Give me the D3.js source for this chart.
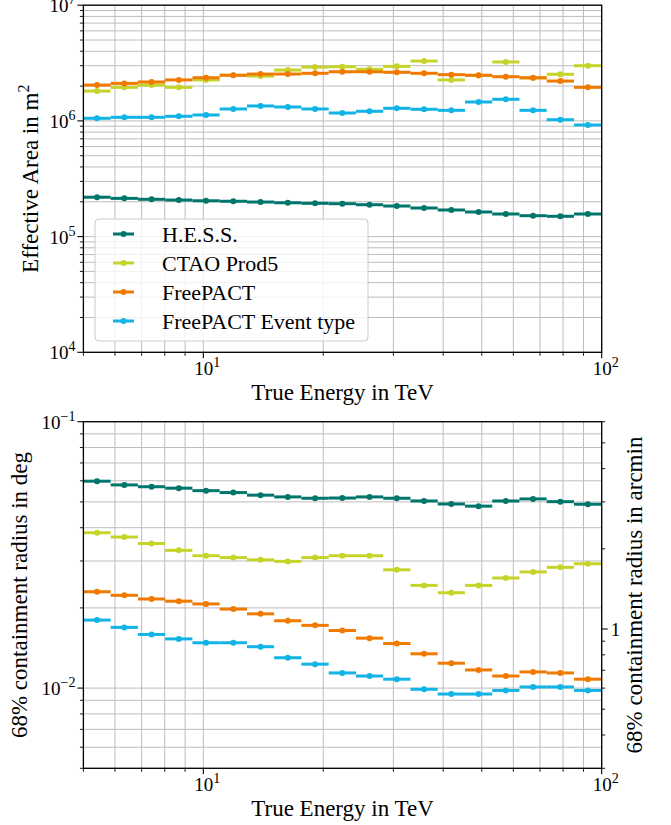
<!DOCTYPE html>
<html>
<head>
<meta charset="utf-8">
<script src="https://cdn.jsdelivr.net/npm/d3@7"></script>
<style>
  html, body { margin: 0; padding: 0; background: #fff; }
  svg { display: block; }
  svg text { font-family: "Liberation Serif", serif !important; }
</style>
</head>
<body>
<svg id="chart" width="671" height="825" font-family="Liberation Serif"></svg>
<script>
// ---------------- DATA ----------------
const binEdges = [5.000, 5.853, 6.852, 8.020, 9.389, 10.99, 12.87, 15.06, 17.63, 20.64,
                  24.16, 28.28, 33.11, 38.75, 45.37, 53.11, 62.17, 72.77, 85.19, 100.0];

const seriesNames = ["H.E.S.S.", "CTAO Prod5", "FreePACT", "FreePACT Event type"];
const seriesColors = ["#00756b", "#c6d42a", "#f07a00", "#12b4e6"];

const hessArea  = [2.19e5, 2.14e5, 2.10e5, 2.07e5, 2.04e5, 2.02e5, 1.99e5, 1.96e5, 1.94e5, 1.925e5,
                   1.886e5, 1.838e5, 1.767e5, 1.698e5, 1.632e5, 1.568e5, 1.516e5, 1.498e5, 1.568e5];
const ctaoArea  = [1.81e6, 1.95e6, 2.04e6, 1.95e6, 2.26e6, 2.48e6, 2.44e6, 2.75e6, 2.92e6, 2.94e6,
                   2.79e6, 2.96e6, 3.29e6, 2.26e6, 2.47e6, 3.23e6, 2.35e6, 2.53e6, 3.00e6];
const freeArea  = [2.04e6, 2.11e6, 2.17e6, 2.26e6, 2.36e6, 2.48e6, 2.54e6, 2.54e6, 2.58e6, 2.66e6,
                   2.66e6, 2.63e6, 2.58e6, 2.51e6, 2.48e6, 2.41e6, 2.36e6, 2.21e6, 1.95e6];
const eventArea = [1.053e6, 1.074e6, 1.074e6, 1.096e6, 1.125e6, 1.268e6, 1.346e6, 1.319e6, 1.268e6, 1.170e6,
                   1.211e6, 1.285e6, 1.260e6, 1.234e6, 1.457e6, 1.537e6, 1.234e6, 1.024e6, 0.922e6];

const hessPsf  = [0.0598, 0.0579, 0.0570, 0.0563, 0.0551, 0.0542, 0.0530, 0.0522, 0.0516, 0.0517,
                  0.0522, 0.0516, 0.0504, 0.0491, 0.0482, 0.0504, 0.0513, 0.0501, 0.0490];
const ctaoPsf  = [0.0383, 0.0369, 0.0349, 0.0329, 0.0314, 0.0309, 0.0303, 0.0299, 0.0309, 0.0314,
                  0.0314, 0.0278, 0.0243, 0.0228, 0.0243, 0.0259, 0.0273, 0.0284, 0.0293];
const freePsf  = [0.0230, 0.0223, 0.0216, 0.0212, 0.0207, 0.0198, 0.0190, 0.0179, 0.0172, 0.01645,
                  0.0154, 0.0147, 0.01345, 0.0124, 0.0117, 0.0111, 0.0115, 0.0114, 0.0108];
const eventPsf = [0.0180, 0.0169, 0.0159, 0.0153, 0.0148, 0.0148, 0.0143, 0.0130, 0.0123, 0.0114,
                  0.0111, 0.0108, 0.0099, 0.0095, 0.0095, 0.0098, 0.0101, 0.0101, 0.0098];

const xMajorTicks = [10, 100];
const xTickExp = ["1", "2"];
const areaMajorTicks = [1e4, 1e5, 1e6, 1e7];
const areaTickExp = ["4", "5", "6", "7"];
const psfMajorTicks = [0.01, 0.1];
const psfTickExp = ["\u22122", "\u22121"];
const arcminTicks = [1];
const arcminTickLabels = ["1"];

// ---------------- LAYOUT ----------------
const FONT = "Liberation Serif";
const svg = d3.select("#chart");

const xL = 83.4, xR = 601.7;
const top1 = 5.2, bot1 = 352.3;
const top2 = 421.7, bot2 = 768.3;

const x = d3.scaleLog().domain([5, 100]).range([xL, xR]);
const yA = d3.scaleLog().domain([1e4, 1e7]).range([bot1, top1]);
const yP = d3.scaleLog().domain([0.005, 0.1]).range([bot2, top2]);
const yArc = d3.scaleLog().domain([0.3, 6]).range([bot2, top2]);

function minorTicks(lo, hi) {
  const out = [];
  for (let e = Math.floor(Math.log10(lo)); e <= Math.ceil(Math.log10(hi)); e++) {
    for (let m = 1; m <= 9; m++) {
      const v = m * Math.pow(10, e);
      if (v >= lo * 0.9999 && v <= hi * 1.0001) out.push(v);
    }
  }
  return out;
}

const gridColor = "#bdbdbd";

function txt(sel) {
  return sel.append("text").attr("font-family", FONT).style("font-family", "'Liberation Serif', serif").attr("fill", "#000");
}

function drawPanel(yScale, yDomain, yMajor, yExp, top, bot, data) {
  const g = svg.append("g");
  const xs = minorTicks(5, 100);
  const ys = minorTicks(yDomain[0], yDomain[1]);
  g.selectAll(".gx").data(xs).enter().append("line")
    .attr("x1", d => x(d)).attr("x2", d => x(d))
    .attr("y1", top).attr("y2", bot)
    .attr("stroke", gridColor).attr("stroke-width", 1);
  g.selectAll(".gy").data(ys).enter().append("line")
    .attr("y1", d => yScale(d)).attr("y2", d => yScale(d))
    .attr("x1", xL).attr("x2", xR)
    .attr("stroke", gridColor).attr("stroke-width", 1);

  data.forEach((vals, si) => {
    const gs = g.append("g");
    vals.forEach((v, i) => {
      const lo = binEdges[i], hi = binEdges[i + 1];
      const c = Math.sqrt(lo * hi);
      gs.append("line")
        .attr("x1", x(lo)).attr("x2", x(hi))
        .attr("y1", yScale(v)).attr("y2", yScale(v))
        .attr("stroke", seriesColors[si]).attr("stroke-width", 3);
      gs.append("circle")
        .attr("cx", x(c)).attr("cy", yScale(v)).attr("r", 3)
        .attr("fill", seriesColors[si]);
    });
  });

  const tg = g.append("g");
  xs.forEach(v => {
    const maj = xMajorTicks.includes(v);
    tg.append("line").attr("x1", x(v)).attr("x2", x(v))
      .attr("y1", bot).attr("y2", bot + (maj ? 6 : 3.5))
      .attr("stroke", "#000").attr("stroke-width", maj ? 1.1 : 0.9);
  });
  ys.forEach(v => {
    const maj = yMajor.some(m => Math.abs(m - v) / m < 1e-6);
    tg.append("line").attr("y1", yScale(v)).attr("y2", yScale(v))
      .attr("x1", xL).attr("x2", xL - (maj ? 6 : 3.5))
      .attr("stroke", "#000").attr("stroke-width", maj ? 1.1 : 0.9);
  });
  xMajorTicks.forEach((v, i) => {
    const t = txt(tg).attr("x", x(v) + 4).attr("y", bot + 23)
      .attr("text-anchor", "middle").attr("font-size", 19);
    t.append("tspan").text("10");
    t.append("tspan").attr("dy", -8).attr("font-size", 14).text(xTickExp[i]);
  });
  yMajor.forEach((v, i) => {
    const t = txt(tg).attr("x", xL - 8).attr("y", yScale(v) + 7)
      .attr("text-anchor", "end").attr("font-size", 19);
    t.append("tspan").text("10");
    t.append("tspan").attr("dy", -8).attr("font-size", 14).text(yExp[i]);
  });
  g.append("rect").attr("x", xL).attr("y", top).attr("width", xR - xL).attr("height", bot - top)
    .attr("fill", "none").attr("stroke", "#000").attr("stroke-width", 1.3);
  txt(g).attr("x", (xL + xR) / 2).attr("y", bot + 48)
    .attr("text-anchor", "middle").attr("font-size", 23).text("True Energy in TeV");
  return g;
}

drawPanel(yA, [1e4, 1e7], areaMajorTicks, areaTickExp, top1, bot1,
          [hessArea, ctaoArea, freeArea, eventArea]);
drawPanel(yP, [0.005, 0.1], psfMajorTicks, psfTickExp, top2, bot2,
          [hessPsf, ctaoPsf, freePsf, eventPsf]);

const yl1 = txt(svg)
  .attr("transform", `translate(38,${(top1 + bot1) / 2}) rotate(-90)`)
  .attr("text-anchor", "middle").attr("font-size", 23);
yl1.append("tspan").text("Effective Area in m");
yl1.append("tspan").attr("dy", -9).attr("font-size", 16).text("2");

txt(svg)
  .attr("transform", `translate(27,${(top2 + bot2) / 2}) rotate(-90)`)
  .attr("text-anchor", "middle").attr("font-size", 23).text("68% containment radius in deg");

const arcTicks = minorTicks(0.3, 6);
arcTicks.forEach(v => {
  const maj = arcminTicks.includes(v);
  svg.append("line").attr("y1", yArc(v)).attr("y2", yArc(v))
    .attr("x1", xR).attr("x2", xR + (maj ? 6 : 3.5))
    .attr("stroke", "#000").attr("stroke-width", maj ? 1.1 : 0.9);
});
arcminTicks.forEach((v, i) => {
  txt(svg).attr("x", xR + 9).attr("y", yArc(v) + 7)
    .attr("font-size", 19).text(arcminTickLabels[i]);
});
txt(svg)
  .attr("transform", `translate(642,${(top2 + bot2) / 2}) rotate(-90)`)
  .attr("text-anchor", "middle").attr("font-size", 23).text("68% containment radius in arcmin");

const lg = svg.append("g");
lg.append("rect").attr("x", 95).attr("y", 219).attr("width", 273).attr("height", 122)
  .attr("rx", 4).attr("fill", "#fff").attr("fill-opacity", 0.8)
  .attr("stroke", "#cccccc").attr("stroke-width", 1);
seriesNames.forEach((n, i) => {
  const yy = 234 + i * 29;
  lg.append("line").attr("x1", 113).attr("x2", 134).attr("y1", yy).attr("y2", yy)
    .attr("stroke", seriesColors[i]).attr("stroke-width", 3);
  lg.append("circle").attr("cx", 123.5).attr("cy", yy).attr("r", 3).attr("fill", seriesColors[i]);
  txt(lg).attr("x", 162).attr("y", yy + 8).attr("font-size", 22).text(n);
});
</script>
</body>
</html>
